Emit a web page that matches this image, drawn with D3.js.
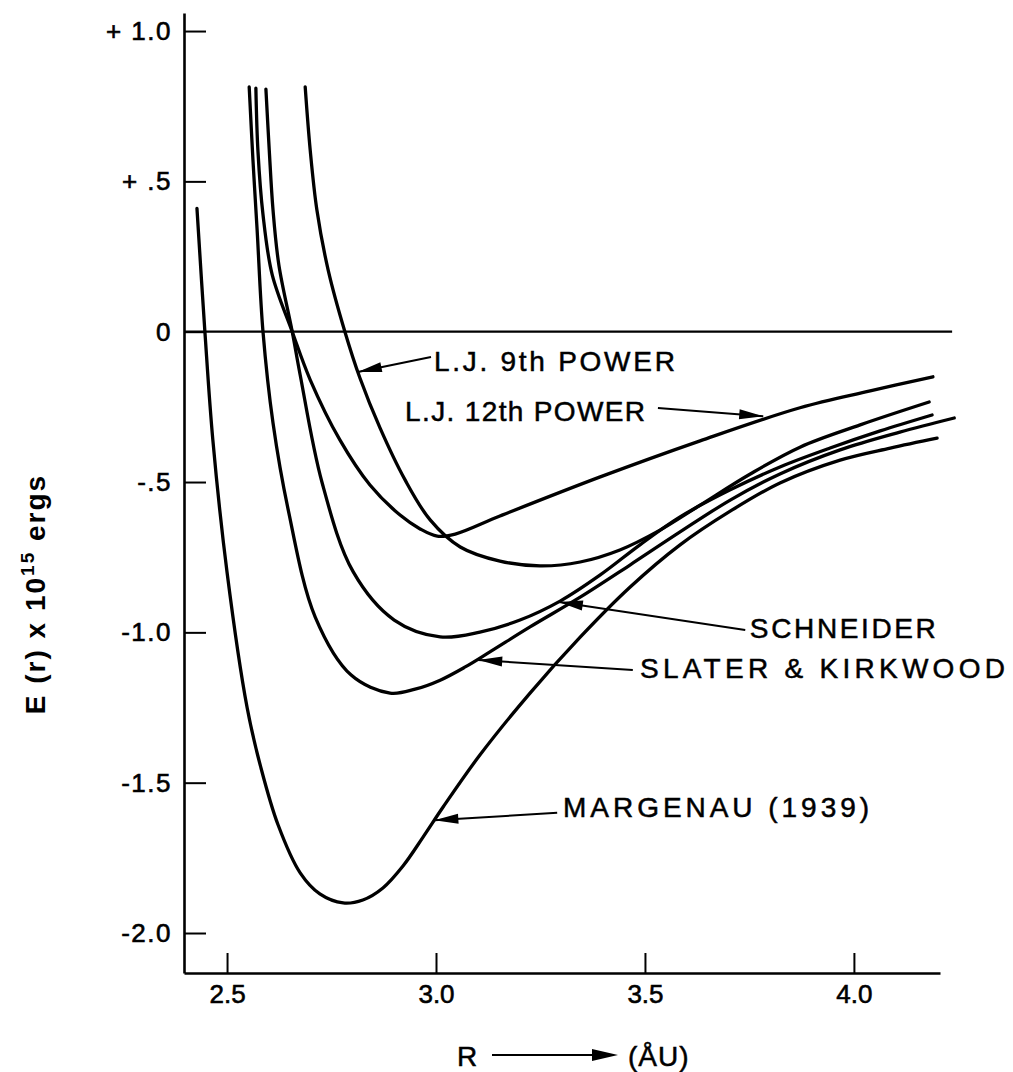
<!DOCTYPE html>
<html><head><meta charset="utf-8">
<script src="https://cdn.jsdelivr.net/npm/d3@7"></script>
<style>
html,body{margin:0;padding:0;background:#fff;}
text{font-family:"Liberation Sans",Arial,sans-serif;fill:#000;}
</style></head><body>
<svg id="chart" width="1013" height="1072"></svg>
<script>
// ---- data: [R (Å), E (10^-15 erg)] ----
const margenau = [[2.428,0.41],[2.447,0.0],[2.466,-0.36],[2.500,-0.80],[2.548,-1.25],[2.581,-1.45],[2.622,-1.64],[2.675,-1.80],[2.722,-1.87],[2.778,-1.90],[2.825,-1.890],[2.873,-1.850],[2.921,-1.777],[2.969,-1.681],[3.017,-1.581],[3.105,-1.408],[3.225,-1.202],[3.345,-1.016],[3.464,-0.850],[3.584,-0.709],[3.704,-0.597],[3.823,-0.503],[3.967,-0.427],[4.087,-0.387],[4.199,-0.354]];
const slaterKirkwood = [[2.553,0.814],[2.562,0.571],[2.572,0.338],[2.586,0.0],[2.610,-0.304],[2.646,-0.590],[2.711,-0.949],[2.797,-1.142],[2.890,-1.202],[2.950,-1.189],[3.010,-1.159],[3.070,-1.115],[3.129,-1.065],[3.225,-0.982],[3.345,-0.883],[3.464,-0.776],[3.584,-0.666],[3.704,-0.560],[3.823,-0.473],[3.967,-0.393],[4.110,-0.334],[4.240,-0.287]];
const schneider = [[2.593,0.807],[2.601,0.604],[2.610,0.405],[2.624,0.222],[2.656,0.0],[2.675,-0.144],[2.727,-0.500],[2.802,-0.799],[2.900,-0.959],[3.010,-1.015],[3.105,-0.999],[3.201,-0.959],[3.297,-0.896],[3.393,-0.809],[3.488,-0.709],[3.584,-0.616],[3.704,-0.526],[3.823,-0.450],[3.943,-0.387],[4.063,-0.330],[4.187,-0.277]];
const lj12 = [[2.569,0.81],[2.574,0.60],[2.586,0.39],[2.608,0.19],[2.656,0.0],[2.699,-0.16],[2.770,-0.36],[2.842,-0.51],[2.914,-0.61],[2.962,-0.656],[3.003,-0.68],[3.046,-0.673],[3.153,-0.613],[3.393,-0.483],[3.632,-0.363],[3.871,-0.253],[4.039,-0.197],[4.189,-0.15]];
const lj9 = [[2.687,0.814],[2.699,0.604],[2.715,0.405],[2.742,0.205],[2.782,0.0],[2.818,-0.154],[2.866,-0.320],[2.926,-0.493],[2.986,-0.626],[3.058,-0.716],[3.153,-0.763],[3.249,-0.779],[3.345,-0.766],[3.440,-0.726],[3.536,-0.660],[3.632,-0.577],[3.751,-0.474],[3.871,-0.384],[4.015,-0.310],[4.180,-0.234]];

const seriesNames = ["MARGENAU (1939)","SLATER & KIRKWOOD","SCHNEIDER","L.J. 12th POWER","L.J. 9th POWER"];
const seriesData = [margenau, slaterKirkwood, schneider, lj12, lj9];

const yTickValues = [1, 0.5, 0, -0.5, -1, -1.5, -2];
const yTickLabels = ["+ 1.0","+ .5","0","-.5","-1.0","-1.5","-2.0"];
const xTickValues = [2.5, 3.0, 3.5, 4.0];
const xTickLabels = ["2.5","3.0","3.5","4.0"];

// label layout (data coords): text anchor point, arrow tail, arrow tip; width in px
const labelLayout = [
  {name:"L.J. 9th POWER",    text:[2.995,-0.130], tail:[2.988,-0.084], tip:[2.813,-0.134], w:241},
  {name:"L.J. 12th POWER",   text:[2.926,-0.297], tail:[3.531,-0.254], tip:[3.783,-0.281], w:240},
  {name:"SCHNEIDER",         text:[3.751,-1.019], tail:[3.740,-0.992], tip:[3.294,-0.899], w:186},
  {name:"SLATER & KIRKWOOD", text:[3.488,-1.152], tail:[3.471,-1.125], tip:[3.101,-1.092], w:365},
  {name:"MARGENAU (1939)",   text:[3.304,-1.614], tail:[3.290,-1.600], tip:[2.996,-1.625], w:306}
];

// ---- drawing ----
const svg = d3.select("#chart");
const x = d3.scaleLinear().domain([2.397, 4.206]).range([184, 940]);
const y = d3.scaleLinear().domain([-2.133, 1.06]).range([973, 13]);

// zero line
svg.append("line")
  .attr("x1", x(2.397)).attr("x2", x(4.235))
  .attr("y1", y(0)).attr("y2", y(0))
  .attr("stroke","#000").attr("stroke-width",2.2);

// y axis
const yAxis = svg.append("g").attr("transform","translate(184,0)")
  .call(d3.axisLeft(y).tickValues(yTickValues).tickFormat((d,i)=>yTickLabels[i])
        .tickSize(-22).tickSizeOuter(0).tickPadding(12));
yAxis.select(".domain").attr("stroke","#000").attr("stroke-width",2.6);
yAxis.selectAll(".tick line").attr("stroke","#000").attr("stroke-width",2);
yAxis.selectAll(".tick text").attr("font-size",26).attr("letter-spacing",1.5)
  .attr("stroke","#000").attr("stroke-width",0.6)
  .style("font-family","'Liberation Sans',Arial,sans-serif").attr("fill","#000");

// x axis
const xAxis = svg.append("g").attr("transform","translate(0,973)")
  .call(d3.axisBottom(x).tickValues(xTickValues).tickFormat((d,i)=>xTickLabels[i])
        .tickSize(-20).tickSizeOuter(0).tickPadding(12));
xAxis.select(".domain").attr("stroke","#000").attr("stroke-width",2.6);
xAxis.selectAll(".tick line").attr("stroke","#000").attr("stroke-width",2);
xAxis.selectAll(".tick text").attr("font-size",26)
  .attr("stroke","#000").attr("stroke-width",0.6)
  .style("font-family","'Liberation Sans',Arial,sans-serif").attr("fill","#000");

// curves
const line = d3.line().x(d=>x(d[0])).y(d=>y(d[1])).curve(d3.curveCatmullRom.alpha(0.5));
svg.append("g").selectAll("path").data(seriesData).join("path")
  .attr("d", line).attr("fill","none").attr("stroke","#000")
  .attr("stroke-width",3.3).attr("stroke-linecap","round").attr("stroke-linejoin","round");

// arrowhead helper
function arrowHead(g, x0, y0, x1, y1, len, half){
  const a = Math.atan2(y1-y0, x1-x0);
  const bx = x1 - len*Math.cos(a), by = y1 - len*Math.sin(a);
  const px = -Math.sin(a)*half, py = Math.cos(a)*half;
  g.append("path").attr("d", `M${x1},${y1}L${bx+px},${by+py}L${bx-px},${by-py}Z`).attr("fill","#000");
}

// annotations
const ann = svg.append("g");
labelLayout.forEach(l=>{
  ann.append("text").attr("x", x(l.text[0])).attr("y", y(l.text[1]))
    .attr("font-size",28).attr("textLength",l.w).attr("lengthAdjust","spacing")
    .attr("stroke","#000").attr("stroke-width",0.5).text(l.name);
  const x0=x(l.tail[0]), y0=y(l.tail[1]), x1=x(l.tip[0]), y1=y(l.tip[1]);
  ann.append("line").attr("x1",x0).attr("y1",y0).attr("x2",x1).attr("y2",y1)
    .attr("stroke","#000").attr("stroke-width",2);
  arrowHead(ann, x0,y0,x1,y1, 24, 5);
});

// axis titles
const yt = svg.append("text").attr("transform","translate(45,594) rotate(-90)")
  .attr("text-anchor","middle").attr("font-size",28).attr("font-weight","bold").attr("letter-spacing",2);
yt.append("tspan").text("E (r) x 10");
yt.append("tspan").attr("dy",-11).attr("font-size",19).text("15");
yt.append("tspan").attr("dy",11).text(" ergs");

svg.append("text").attr("x",467).attr("y",1066).attr("text-anchor","middle")
  .attr("font-size",28).attr("stroke","#000").attr("stroke-width",0.5).text("R");
svg.append("line").attr("x1",492).attr("x2",612).attr("y1",1055).attr("y2",1055)
  .attr("stroke","#000").attr("stroke-width",2.2);
arrowHead(svg, 492,1055,618,1055, 26, 6);
svg.append("text").attr("x",628).attr("y",1066).attr("font-size",28).attr("letter-spacing",1)
  .attr("stroke","#000").attr("stroke-width",0.5).text("(ÅU)");
</script>
</body></html>
